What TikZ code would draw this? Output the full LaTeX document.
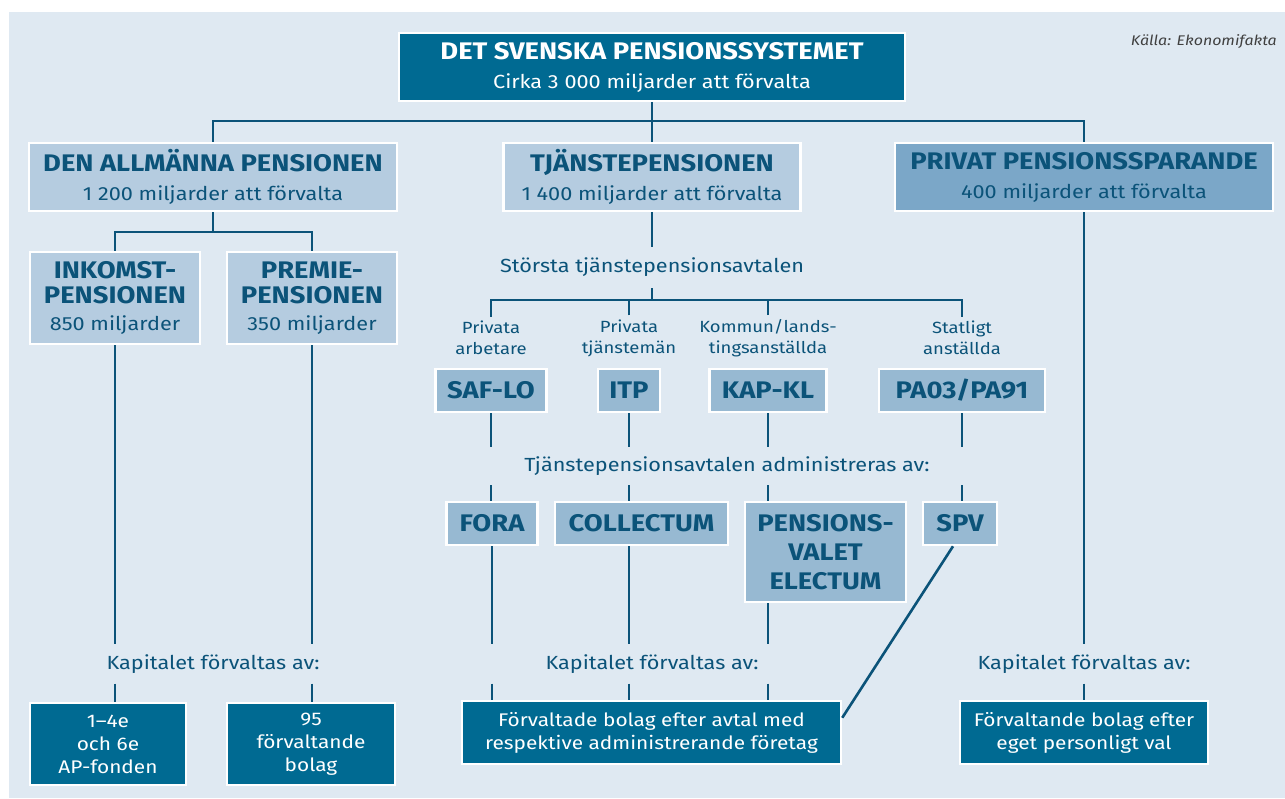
\documentclass[tikz,border=0pt]{standalone}
\usepackage{fontspec}
\setmainfont{Fira Sans}[FakeStretch=1.14]
\usetikzlibrary{calc}
\definecolor{bgblue}{RGB}{223,233,242}
\definecolor{pdark}{RGB}{0,106,146}
\definecolor{plight}{RGB}{181,204,224}
\definecolor{pmid}{RGB}{151,185,210}
\definecolor{ppriv}{RGB}{123,167,200}
\definecolor{pink}{RGB}{11,83,121}
\newcommand\phead{\fontsize{24}{25}\selectfont\bfseries}
\newcommand\psub{\fontsize{19}{23}\selectfont\mdseries}
\newcommand\pbox{\fontsize{18.3}{23}\selectfont}
\newcommand\plbl{\fontsize{16.2}{21}\selectfont}
\begin{document}
\begin{tikzpicture}[x=1pt,y=-1pt,
  box/.style={draw=white,line width=2.5pt,align=center,inner sep=0pt,text=pink},
  darkbox/.style={box,fill=pdark,text=white,font=\pbox},
  lightbox/.style={box,fill=plight,font=\phead},
  avtal/.style={box,fill=pmid,font=\phead},
  lbl/.style={text=pink,align=center,inner sep=0pt},
  conn/.style={draw=pink,line width=2.6pt}]
\useasboundingbox (0,0) rectangle (1285,798);
\fill[white] (0,0) rectangle (1285,798);
\fill[bgblue] (9,12) rectangle (1285,798);

\node [darkbox,font=\phead,minimum width=506,minimum height=68] (top) at (652,67)
  {DET SVENSKA PENSIONSSYSTEMET\\[4pt]\psub Cirka 3~000 miljarder att förvalta};
\node [anchor=east,inner sep=0pt,text=black!75,font=\fontsize{14}{16}\selectfont\itshape] (kalla) at (1277,42) {Källa: Ekonomifakta};

\node [lightbox,minimum width=368,minimum height=68] (allm) at (213,177)
  {DEN ALLMÄNNA PENSIONEN\\[4pt]\psub 1~200 miljarder att förvalta};
\node [lightbox,minimum width=297,minimum height=68] (tjp) at (652,177)
  {TJÄNSTEPENSIONEN\\[4pt]\psub 1~400 miljarder att förvalta};
\node [lightbox,fill=ppriv,minimum width=378,minimum height=68] (priv) at (1084,177)
  {PRIVAT PENSIONSSPARANDE\\[4pt]\psub 400 miljarder att förvalta};

\node [lightbox,minimum width=170,minimum height=92] (inkomst) at (115,298)
  {INKOMST-\\PENSIONEN\\[2pt]\psub 850 miljarder};
\node [lightbox,minimum width=170,minimum height=92] (premie) at (312,298)
  {PREMIE-\\PENSIONEN\\[2pt]\psub 350 miljarder};

\node [lbl,font=\psub,minimum height=41] (storsta) at (652,267.5) {Största tjänstepensionsavtalen};
\node [lbl,font=\plbl,inner sep=4pt] (privarb) at (491,338) {Privata\\arbetare};
\node [lbl,font=\plbl,inner sep=4pt] (privtj) at (629,338) {Privata\\tjänstemän};
\node [lbl,font=\plbl,inner sep=4pt] (kommun) at (768,338) {Kommun/lands-\\tingsanställda};
\node [lbl,font=\plbl,inner sep=4pt] (statl) at (962,338) {Statligt\\anställda};

\node [avtal,minimum width=111,minimum height=43] (saflo) at (491,390.5) {SAF-LO};
\node [avtal,minimum width=62,minimum height=43] (itp) at (629,390.5) {ITP};
\node [avtal,minimum width=117,minimum height=43] (kapkl) at (768,390.5) {KAP-KL};
\node [avtal,minimum width=166,minimum height=43] (pa) at (962,390.5) {PA03/PA91};

\node [lbl,font=\psub,minimum height=38] (admin) at (727,466) {Tjänstepensionsavtalen administreras av:};

\node [avtal,minimum width=91,minimum height=43] (fora) at (492,523.5) {FORA};
\node [avtal,minimum width=173,minimum height=43] (collectum) at (641.5,523.5) {COLLECTUM};
\node [avtal,font=\fontsize{24}{29}\selectfont\bfseries,minimum width=161,minimum height=100] (pv) at (825.5,552)
  {PENSIONS-\\VALET\\ELECTUM};
\node [avtal,minimum width=74,minimum height=43] (spv) at (960,523.5) {SPV};

\node [lbl,font=\psub,minimum height=39] (kap1) at (213,664) {Kapitalet förvaltas av:};
\node [lbl,font=\psub,minimum height=39] (kap2) at (652,664) {Kapitalet förvaltas av:};
\node [lbl,font=\psub,minimum height=39] (kap3) at (1084,664) {Kapitalet förvaltas av:};

\node [darkbox,minimum width=156,minimum height=82] (apf) at (108,744) {1–4e\\och 6e\\AP-fonden};
\node [darkbox,minimum width=168,minimum height=82] (bol) at (311,744) {95\\förvaltande\\bolag};
\node [darkbox,minimum width=379,minimum height=63] (forv) at (651.5,732.5)
  {Förvaltade bolag efter avtal med\\respektive administrerande företag};
\node [darkbox,minimum width=248,minimum height=63] (egen) at (1084,732.5)
  {Förvaltande bolag efter\\eget personligt val};

\coordinate (bus1) at (652,121);
\coordinate (bus2) at (652,300);
\coordinate (bus3) at (213,232);

\draw [conn] (top.south) -- (bus1) -- (tjp.north);
\draw [conn] (allm.north) |- (bus1) -| (priv.north);
\draw [conn] (allm.south) -- (bus3);
\draw [conn] (inkomst.north) |- (bus3) -| (premie.north);
\draw [conn] (inkomst.south) -- (inkomst.south |- kap1.north);
\draw [conn] (inkomst.south |- kap1.south) -- (inkomst.south |- apf.north);
\draw [conn] (premie.south) -- (premie.south |- kap1.north);
\draw [conn] (premie.south |- kap1.south) -- (premie.south |- bol.north);

\draw [conn] (tjp.south) -- (storsta.north);
\draw [conn] (storsta.south) -- (bus2);
\draw [conn] (privarb.north) |- (bus2) -| (statl.north);
\draw [conn] (privtj.north) -- (privtj.north |- bus2);
\draw [conn] (kommun.north) -- (kommun.north |- bus2);

\draw [conn] (saflo.south) -- (saflo.south |- admin.north);
\draw [conn] (saflo.south |- admin.south) -- (saflo.south |- fora.north);
\draw [conn] (itp.south) -- (itp.south |- admin.north);
\draw [conn] (itp.south |- admin.south) -- (itp.south |- collectum.north);
\draw [conn] (kapkl.south) -- (kapkl.south |- admin.north);
\draw [conn] (kapkl.south |- admin.south) -- (kapkl.south |- pv.north);
\draw [conn] (pa.south) -- (pa.south |- admin.north);
\draw [conn] (pa.south |- admin.south) -- (pa.south |- spv.north);

\draw [conn] (fora.south) -- (fora.south |- kap2.north);
\draw [conn] (fora.south |- kap2.south) -- (fora.south |- forv.north);
\draw [conn] (itp.south |- collectum.south) -- (itp.south |- kap2.north);
\draw [conn] (itp.south |- kap2.south) -- (itp.south |- forv.north);
\draw [conn] (kapkl.south |- pv.south) -- (kapkl.south |- kap2.north);
\draw [conn] (kapkl.south |- kap2.south) -- (kapkl.south |- forv.north);
\draw [conn] ($(spv.south)+(-7,0)$) -- ($(forv.north east)+(0,18)$);

\draw [conn] (priv.south) -- (priv.south |- kap3.north);
\draw [conn] (priv.south |- kap3.south) -- (egen.north);
\end{tikzpicture}
\end{document}
